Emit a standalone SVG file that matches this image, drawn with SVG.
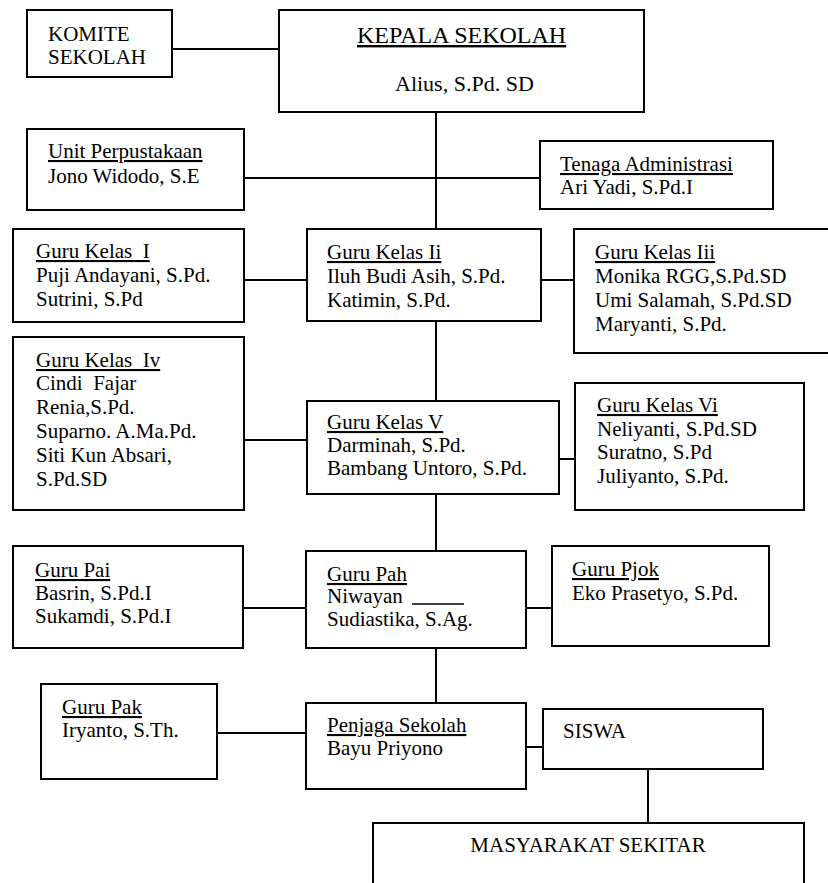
<svg xmlns="http://www.w3.org/2000/svg" width="828" height="883" viewBox="0 0 828 883" font-family="Liberation Serif, serif">
<style>
rect, .box { fill: #fff; stroke: #000; stroke-width: 2; }
.conn line { stroke: #000; stroke-width: 2; }
text { font-family: 'Liberation Serif', 'DejaVu Serif', serif; font-size: 21px; fill: #000; }
.u { text-decoration: underline; }
.big { font-size: 24px; }
.mid { font-size: 22px; }
</style>
<rect x="0" y="0" width="828" height="883" style="fill:#fff;stroke:none"/>
<g class="conn" id="connectors">
<line x1="172" y1="49" x2="279" y2="49"/>
<line x1="436" y1="112" x2="436" y2="229"/>
<line x1="244" y1="178" x2="540" y2="178"/>
<line x1="244" y1="280" x2="307" y2="280"/>
<line x1="541" y1="280" x2="574" y2="280"/>
<line x1="436" y1="321" x2="436" y2="401"/>
<line x1="244" y1="440" x2="307" y2="440"/>
<line x1="559" y1="459" x2="575" y2="459"/>
<line x1="436" y1="494" x2="436" y2="551"/>
<line x1="243" y1="608" x2="306" y2="608"/>
<line x1="526" y1="608" x2="552" y2="608"/>
<line x1="436" y1="648" x2="436" y2="703"/>
<line x1="217" y1="733" x2="306" y2="733"/>
<line x1="526" y1="747" x2="543" y2="747"/>
<line x1="648" y1="769" x2="648" y2="823"/>
</g>
<g id="komite">
<rect x="27" y="10" width="145" height="67"/>
<text x="48" y="41">KOMITE</text>
<text x="48" y="64">SEKOLAH</text>
</g>
<g id="kepala">
<rect x="279" y="10" width="365" height="102"/>
<text x="357" y="43" class="big u">KEPALA SEKOLAH</text>
<text x="395" y="91" class="mid">Alius, S.Pd. SD</text>
</g>
<g id="perpustakaan">
<rect x="27" y="129" width="217" height="81"/>
<text x="48" y="158" class="u">Unit Perpustakaan</text>
<text x="48" y="183">Jono Widodo, S.E</text>
</g>
<g id="administrasi">
<rect x="540" y="141" width="233" height="68"/>
<text x="560" y="171" class="u">Tenaga Administrasi</text>
<text x="560" y="194">Ari Yadi, S.Pd.I</text>
</g>
<g id="kelas1">
<rect x="13" y="229" width="231" height="93"/>
<text x="36" y="258" class="u" xml:space="preserve">Guru Kelas  I</text>
<text x="36" y="282">Puji Andayani, S.Pd.</text>
<text x="36" y="306">Sutrini, S.Pd</text>
</g>
<g id="kelas2">
<rect x="307" y="229" width="234" height="92"/>
<text x="327" y="259" class="u">Guru Kelas Ii</text>
<text x="327" y="283">Iluh Budi Asih, S.Pd.</text>
<text x="327" y="307">Katimin, S.Pd.</text>
</g>
<g id="kelas3">
<rect x="574" y="229" width="260" height="124"/>
<text x="595" y="259" class="u">Guru Kelas Iii</text>
<text x="595" y="283">Monika RGG,S.Pd.SD</text>
<text x="595" y="307">Umi Salamah, S.Pd.SD</text>
<text x="595" y="331">Maryanti, S.Pd.</text>
</g>
<g id="kelas4">
<rect x="13" y="337" width="231" height="173"/>
<text x="36" y="367" class="u" xml:space="preserve">Guru Kelas  Iv</text>
<text x="36" y="390" xml:space="preserve">Cindi  Fajar</text>
<text x="36" y="414">Renia,S.Pd.</text>
<text x="36" y="438">Suparno. A.Ma.Pd.</text>
<text x="36" y="462">Siti Kun Absari,</text>
<text x="36" y="486">S.Pd.SD</text>
</g>
<g id="kelas5">
<rect x="307" y="401" width="252" height="93"/>
<text x="327" y="429" class="u">Guru Kelas V</text>
<text x="327" y="452">Darminah, S.Pd.</text>
<text x="327" y="475">Bambang Untoro, S.Pd.</text>
</g>
<g id="kelas6">
<rect x="575" y="383" width="229" height="127"/>
<text x="597" y="412" class="u">Guru Kelas Vi</text>
<text x="597" y="436">Neliyanti, S.Pd.SD</text>
<text x="597" y="459">Suratno, S.Pd</text>
<text x="597" y="483">Juliyanto, S.Pd.</text>
</g>
<g id="pai">
<rect x="13" y="546" width="230" height="102"/>
<text x="35" y="577" class="u">Guru Pai</text>
<text x="35" y="600">Basrin, S.Pd.I</text>
<text x="35" y="623">Sukamdi, S.Pd.I</text>
</g>
<g id="pah">
<rect x="306" y="551" width="220" height="97"/>
<text x="327" y="581" class="u">Guru Pah</text>
<text x="327" y="603">Niwayan</text>
<line x1="412" y1="604" x2="464" y2="604" style="stroke:#000;stroke-width:1.5"/>
<text x="327" y="626">Sudiastika, S.Ag.</text>
</g>
<g id="pjok">
<rect x="552" y="546" width="217" height="100"/>
<text x="572" y="576" class="u">Guru Pjok</text>
<text x="572" y="600">Eko Prasetyo, S.Pd.</text>
</g>
<g id="pak">
<rect x="41" y="684" width="176" height="95"/>
<text x="62" y="714" class="u">Guru Pak</text>
<text x="62" y="737">Iryanto, S.Th.</text>
</g>
<g id="penjaga">
<rect x="306" y="703" width="220" height="86"/>
<text x="327" y="732" class="u">Penjaga Sekolah</text>
<text x="327" y="755">Bayu Priyono</text>
</g>
<g id="siswa">
<rect x="543" y="709" width="220" height="60"/>
<text x="563" y="738">SISWA</text>
</g>
<g id="masyarakat">
<path class="box" d="M373,890 V823 H804 V890"/>
<text x="588" y="852" text-anchor="middle">MASYARAKAT SEKITAR</text>
</g>
</svg>
